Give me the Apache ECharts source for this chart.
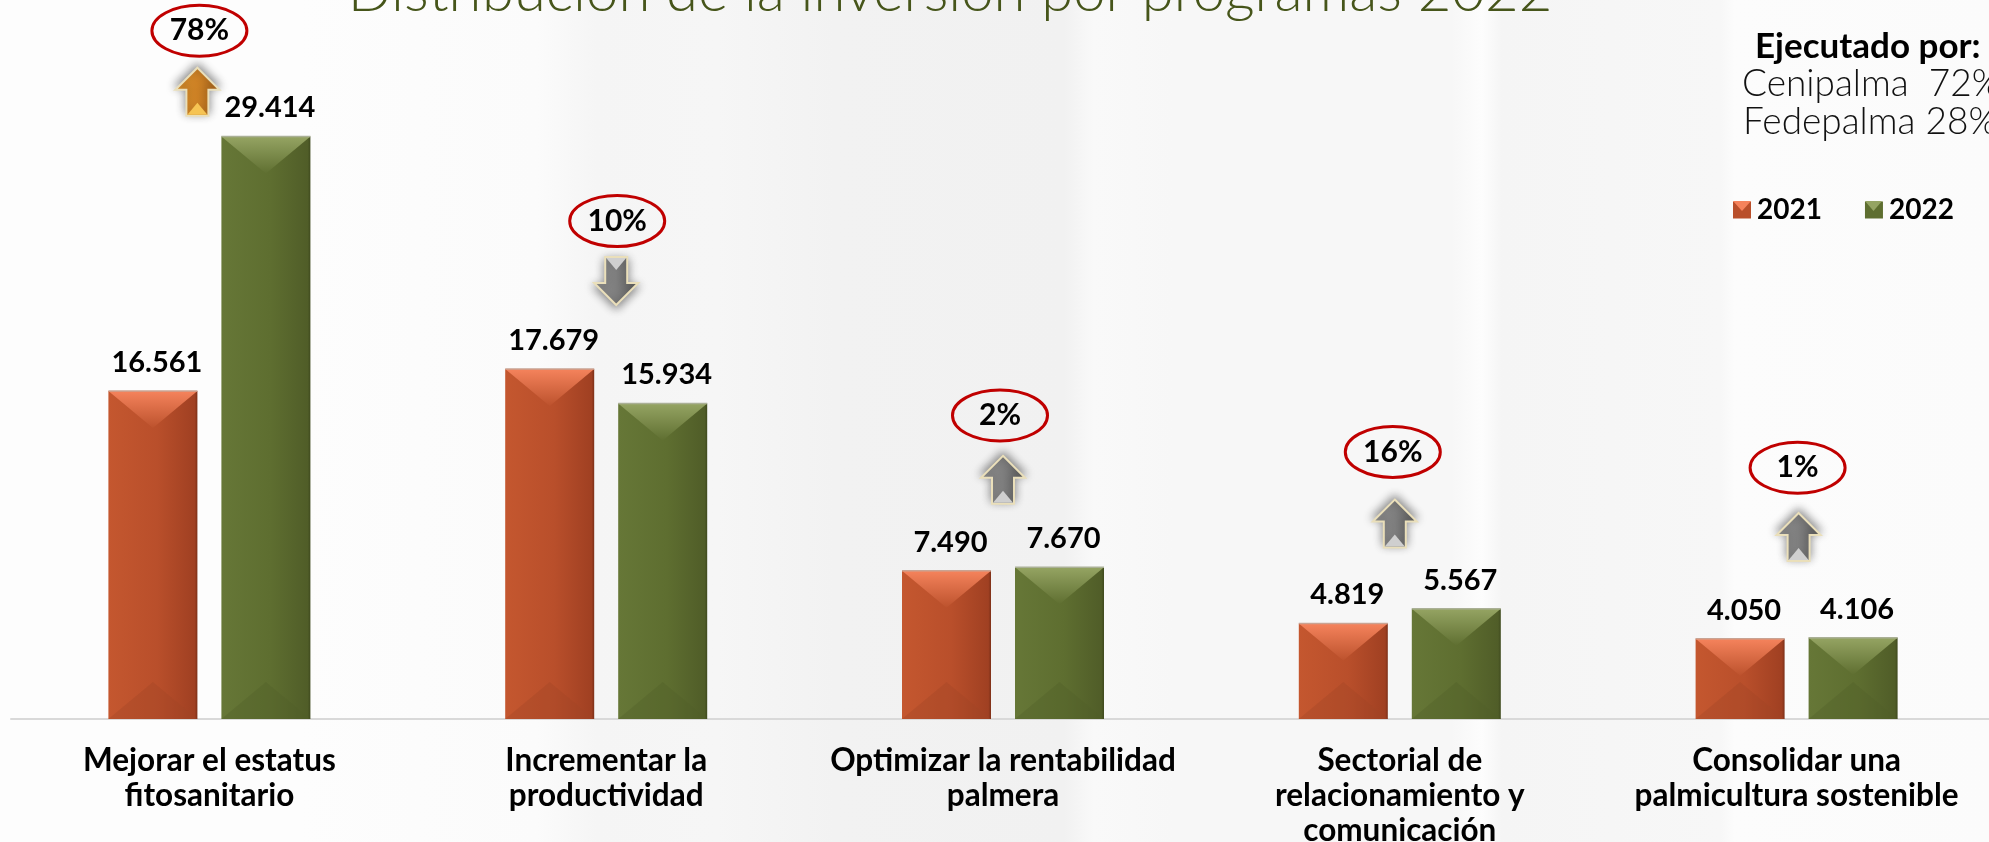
<!DOCTYPE html>
<html>
<head>
<meta charset="utf-8">
<title>Distribución de la inversión por programas 2022</title>
<script src="https://cdn.jsdelivr.net/npm/echarts@6/dist/echarts.min.js"></script>
<style>
  html, body { margin: 0; padding: 0; background: #fbfbfb; overflow: hidden; }
  #chart { width: 1989px; height: 842px; }
</style>
</head>
<body>
<div id="chart"></div>
<script>
// datos
const categories = [
  "Mejorar el estatus\nfitosanitario",
  "Incrementar la\nproductividad",
  "Optimizar la rentabilidad\npalmera",
  "Sectorial de\nrelacionamiento y\ncomunicación",
  "Consolidar una\npalmicultura sostenible"
];
const values2021 = [16561, 17679, 7490, 4819, 4050];
const values2022 = [29414, 15934, 7670, 5567, 4106];
const changeLabels = ["78%", "10%", "2%", "16%", "1%"];
const changeDirections = ["up", "down", "up", "up", "up"];
// altura de globos y flechas, en unidades del eje
const bubbleLevels = [34760, 25150, 15330, 13490, 12690];
const arrowLevels = [31680, 22120, 12080, 9870, 9190];
const bubbleShifts = [-10, 11, -3, -7, 1];
const arrowShifts = [-12, 10, 0, -5, 2];

const BAR_W = 89;
const BAR_GAP = 24;

const RED = { left: "#c4572f", mid: "#b94f2b", right: "#a04022", end: "#7d3018", top: "#f5835c", topEnd: "#bc522d", bottom: "#a04524", edge: "#c9a393" };
const GREEN = { left: "#667737", mid: "#5e6e30", right: "#505d28", end: "#3f4a1e", top: "#95a463", topEnd: "#5f6f31", bottom: "#515e29", edge: "#aab096" };

function barFill(c) {
  return new echarts.graphic.LinearGradient(0, 0, 1, 0, [
    { offset: 0, color: c.left },
    { offset: 0.55, color: c.mid },
    { offset: 0.97, color: c.right },
    { offset: 1, color: c.end }
  ]);
}

// facetas superior e inferior de cada barra
function bevelItem(c, sign) {
  return function (params, api) {
    const idx = api.value(0);
    const top = api.coord([idx, api.value(1)]);
    const base = api.coord([idx, 0]);
    const cx = top[0] + sign * (BAR_W + BAR_GAP) / 2;
    const l = cx - BAR_W / 2;
    const r = cx + BAR_W / 2;
    const depth = 37;
    return {
      type: "group",
      silent: true,
      children: [
        {
          type: "polygon",
          shape: { points: [[l, base[1]], [r, base[1]], [cx, base[1] - depth]] },
          style: { fill: c.bottom, opacity: 0.35 }
        },
        {
          type: "polygon",
          shape: { points: [[l, top[1]], [r, top[1]], [cx, top[1] + depth]] },
          style: {
            fill: new echarts.graphic.LinearGradient(0, 0, 0, 1, [
              { offset: 0, color: c.top },
              { offset: 1, color: c.topEnd }
            ])
          }
        },
        {
          type: "line",
          shape: { x1: l, y1: top[1], x2: r, y2: top[1] },
          style: { stroke: c.edge, lineWidth: 1.5 }
        }
      ]
    };
  };
}

function arrowPoints(cx, cy, dir) {
  const s = dir === "up" ? 1 : -1;
  const h = 24, hw = 22, sw = 11;
  return [
    [cx, cy - s * h],
    [cx + hw, cy - s * 2],
    [cx + sw, cy - s * 2],
    [cx + sw, cy + s * h],
    [cx - sw, cy + s * h],
    [cx - sw, cy - s * 2],
    [cx - hw, cy - s * 2]
  ];
}

// globo rojo con el porcentaje y flecha de variacion
function changeItem(params, api) {
  const i = api.value(0);
  const center = api.coord([i, 0])[0];
  const by = api.coord([i, api.value(1)])[1];
  const ay = api.coord([i, api.value(2)])[1];
  const bx = center + bubbleShifts[i];
  const ax = center + arrowShifts[i];
  const dir = changeDirections[i];
  const s = dir === "up" ? 1 : -1;
  const orange = i === 0;
  const light = orange ? "#f6c453" : "#cfcfcf";
  return {
    type: "group",
    children: [
      {
        type: "ellipse",
        shape: { cx: bx, cy: by, rx: 47.5, ry: 25.5 },
        style: { fill: "rgba(255,255,255,0)", stroke: "#c00000", lineWidth: 3 }
      },
      {
        type: "text",
        style: {
          x: bx, y: by, text: changeLabels[i], fill: "#000",
          font: "bold 30px Lato", align: "center", verticalAlign: "middle"
        }
      },
      {
        type: "polygon",
        shape: { points: arrowPoints(ax, ay, dir) },
        style: {
          fill: new echarts.graphic.LinearGradient(0, 0, 1, 0, orange
            ? [{ offset: 0, color: "#e8992e" }, { offset: 1, color: "#b36a1c" }]
            : [{ offset: 0, color: "#9a9a9a" }, { offset: 1, color: "#636363" }]),
          stroke: "#eadfba",
          lineWidth: 2,
          shadowBlur: 10,
          shadowColor: "rgba(0,0,0,0.45)",
          shadowOffsetY: -3 * s
        }
      },
      {
        type: "polygon",
        shape: { points: [[ax - 10, ay + s * 23], [ax + 10, ay + s * 23], [ax, ay + s * 11]] },
        style: { fill: light }
      }
    ]
  };
}

const labelOpt = {
  show: true,
  position: "top",
  distance: 14,
  offset: [4, 0],
  color: "#000",
  fontFamily: "Lato",
  fontWeight: "bold",
  fontSize: 29,
  formatter: function (p) {
    return String(p.value).replace(/(\d)(\d{3})$/, "$1.$2");
  }
};

const bgStops = [
  [0, "#fdfdfd"], [0.15, "#fdfdfd"], [0.27, "#fbfbfb"], [0.3, "#f5f5f5"], [0.36, "#f6f6f6"], [0.42, "#f2f2f2"],
  [0.535, "#f1f1f1"], [0.55, "#f9f9f9"], [0.59, "#f7f7f7"], [0.73, "#f7f7f7"], [0.745, "#fdfdfd"],
  [0.755, "#f5f5f5"], [0.865, "#f7f7f7"], [0.872, "#fcfcfc"], [1, "#fbfbfb"]
];

const option = {
  animation: false,
  backgroundColor: new echarts.graphic.LinearGradient(0, 0, 1, 0,
    bgStops.map(function (s) { return { offset: s[0], color: s[1] }; })),
  title: {
    text: "Distribución de la inversión por programas 2022",
    left: 945,
    top: -42,
    textAlign: "center",
    textStyle: { color: "#46551a", fontFamily: "Lato", fontWeight: 300, fontSize: 58 }
  },
  legend: {
    data: [
      { name: "2021", itemStyle: { color: RED.mid } },
      { name: "2022", itemStyle: { color: GREEN.mid } }
    ],
    left: 1733,
    top: 196,
    padding: 0,
    icon: "rect",
    itemWidth: 18,
    itemHeight: 17,
    itemGap: 43,
    textStyle: { color: "#000", fontFamily: "Lato", fontWeight: "bold", fontSize: 28, padding: [0, 0, 0, 1] }
  },
  grid: { left: 11, right: -6, top: 125, bottom: 123, outerBoundsMode: "none" },
  xAxis: {
    type: "category",
    data: categories,
    axisTick: { show: false },
    axisLine: { lineStyle: { color: "#d9d9d9", width: 2 } },
    axisLabel: {
      interval: 0,
      margin: 24,
      color: "#000",
      fontFamily: "Lato",
      fontWeight: "bold",
      fontSize: 31.5,
      lineHeight: 35
    }
  },
  yAxis: { type: "value", min: 0, max: 30000, show: false, splitLine: { show: false } },
  graphic: [
    { type: "text", z: 10, left: 1755, top: 29, style: { text: "Ejecutado por:", fill: "#000", font: "bold 35px Lato" } },
    { type: "text", z: 10, left: 1742, top: 66, style: { text: "Cenipalma  72%", fill: "#111", font: "300 37px Lato" } },
    { type: "text", z: 10, left: 1743, top: 104, style: { text: "Fedepalma 28%", fill: "#111", font: "300 37px Lato" } },
    { type: "polygon", z: 10, shape: { points: [[1733, 201], [1751, 201], [1742, 211]] }, style: { fill: RED.top } },
    { type: "polygon", z: 10, shape: { points: [[1865, 201], [1882, 201], [1873.5, 211]] }, style: { fill: GREEN.top } }
  ],
  series: [
    {
      name: "2021",
      type: "bar",
      data: values2021,
      barWidth: BAR_W,
      barGap: (BAR_GAP / BAR_W * 100) + "%",
      itemStyle: { color: barFill(RED) },
      label: labelOpt
    },
    {
      name: "2022",
      type: "bar",
      data: values2022,
      barWidth: BAR_W,
      itemStyle: { color: barFill(GREEN) },
      label: labelOpt
    },
    {
      type: "custom",
      name: "bisel2021",
      z: 3,
      silent: true,
      renderItem: bevelItem(RED, -1),
      data: values2021.map(function (v, i) { return [i, v]; })
    },
    {
      type: "custom",
      name: "bisel2022",
      z: 3,
      silent: true,
      renderItem: bevelItem(GREEN, 1),
      data: values2022.map(function (v, i) { return [i, v]; })
    },
    {
      type: "custom",
      name: "variacion",
      z: 4,
      silent: true,
      clip: false,
      renderItem: changeItem,
      data: bubbleLevels.map(function (v, i) { return [i, v, arrowLevels[i]]; })
    }
  ]
};

const myChart = echarts.init(document.getElementById("chart"));
myChart.setOption(option);
</script>
</body>
</html>
